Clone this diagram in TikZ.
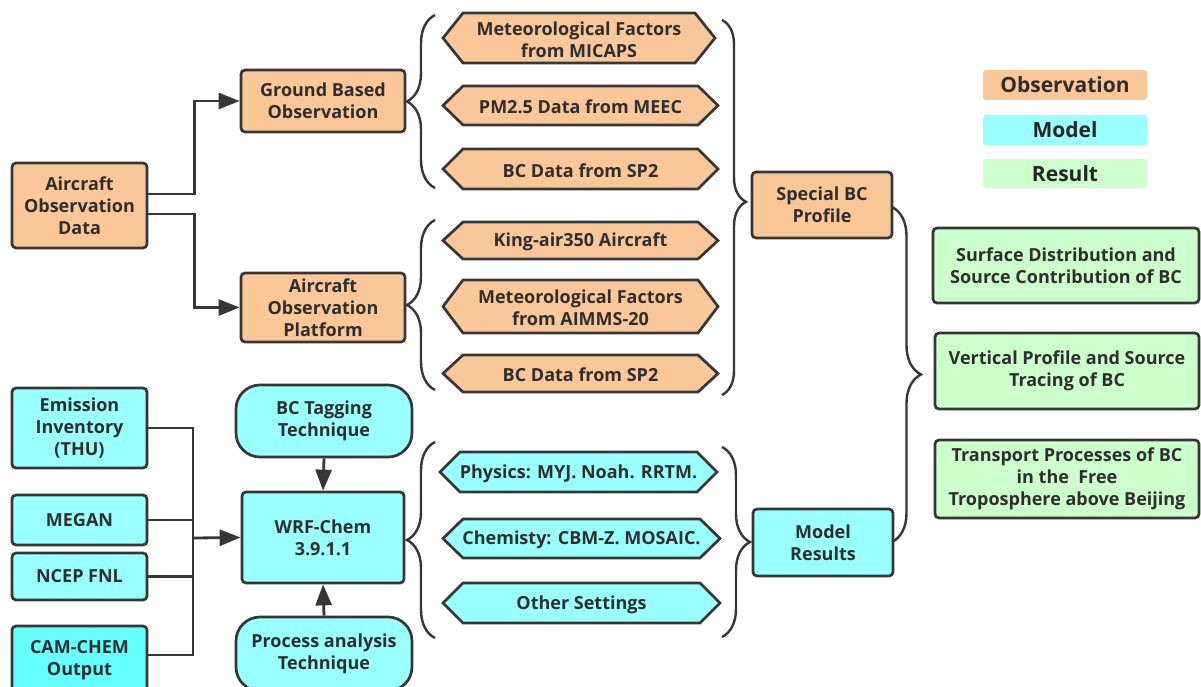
\documentclass[tikz,border=0pt]{standalone}
\usepackage{fontspec}
\setmainfont{Open Sans}
\usetikzlibrary{arrows.meta,decorations.pathreplacing}
\definecolor{obs}{HTML}{FAC898}
\definecolor{mod}{HTML}{99FFFF}
\definecolor{modb}{HTML}{66FFFF}
\definecolor{res}{HTML}{CCFFCC}
\definecolor{ln}{HTML}{363636}
\definecolor{tx}{HTML}{2E2E2E}
\tikzset{
  txt/.style={text=tx, align=center, inner sep=0pt, font=\fontsize{18}{22}\selectfont\bfseries},
  box/.style={txt, draw=ln, line width=2.7pt, rounded corners=4pt},
  hexline/.style={draw=ln, line width=2.7pt, line join=miter},
  legendbox/.style={txt, rounded corners=3pt, font=\fontsize{21}{25}\selectfont\bfseries},
  conn/.style={draw=ln, line width=2.8pt},
  arr/.style={conn, -{Triangle[length=21pt,width=16pt]}},
  bracel/.style={draw=ln, line width=2.4pt, decorate, decoration={brace, amplitude=#1}},
}
\newcommand\hexnode[7]{%
  \draw[hexline,fill=#2] (#3,{(#4+#6)/2}) -- ({#3+20},#4) -- ({#5-20},#4) -- (#5,{(#4+#6)/2}) -- ({#5-20},#6) -- ({#3+20},#6) -- cycle;
  \node[txt] (#1) at ({(#3+#5)/2},{(#4+#6)/2+1.5}) {#7};
}
\begin{document}
\begin{tikzpicture}[x=1pt,y=-1pt]
\clip (0,0) rectangle (1201,687);
\fill[white] (0,0) rectangle (1201,687);

% observation boxes
\node[box, fill=obs, minimum width=135pt, minimum height=85pt] (aod) at (79.5,205.5) {Aircraft\\Observation\\Data};
\node[box, fill=obs, minimum width=164pt, minimum height=62pt] (gbo) at (323,101) {Ground Based\\Observation};
\node[box, fill=obs, minimum width=164pt, minimum height=69pt] (aop) at (323,307.5) {Aircraft\\Observation\\Platform};
\node[box, fill=obs, minimum width=140pt, minimum height=66pt] (sbc) at (822,205) {Special BC\\Profile};

% observation hexagons
\hexnode{h1}{obs}{443}{13}{715}{63}{Meteorological Factors\\from MICAPS}
\hexnode{h2}{obs}{443}{86}{718}{125}{PM2.5 Data from MEEC}
\hexnode{h3}{obs}{443}{149}{718}{189}{BC Data from SP2}
\hexnode{h4}{obs}{443}{222}{718}{259}{King-air350 Aircraft}
\hexnode{h5}{obs}{443}{280}{718}{333}{Meteorological Factors\\from AIMMS-20}
\hexnode{h6}{obs}{443}{355}{718}{392}{BC Data from SP2}

% model boxes
\node[box, fill=mod, minimum width=135pt, minimum height=80pt] (emi) at (79.5,428) {Emission\\Inventory\\(THU)};
\node[box, fill=mod, minimum width=135pt, minimum height=50pt] (megan) at (79.5,520) {MEGAN};
\node[box, fill=mod, minimum width=135pt, minimum height=47pt] (ncep) at (79.5,576.5) {NCEP FNL};
\node[box, fill=modb, minimum width=135pt, minimum height=68pt] (cam) at (79.5,660) {CAM-CHEM\\Output};
\node[box, fill=mod, minimum width=162pt, minimum height=91pt] (wrf) at (323,537.5) {WRF-Chem\\3.9.1.1};
\node[box, fill=mod, rounded corners=24pt, minimum width=176pt, minimum height=72pt] (tag) at (324,421) {BC Tagging\\Technique};
\node[box, fill=mod, rounded corners=24pt, minimum width=176pt, minimum height=74pt] (proc) at (324,654) {Process analysis\\Technique};
\node[box, fill=mod, minimum width=140pt, minimum height=67pt] (mr) at (823,542.5) {Model\\Results};

% model hexagons
\hexnode{h7}{mod}{440}{452}{717}{492}{Physics: MYJ. Noah. RRTM.}
\hexnode{h8}{mod}{443}{519}{720}{558}{Chemisty: CBM-Z. MOSAIC.}
\hexnode{h9}{mod}{443}{583}{720}{623}{Other Settings}

% results
\node[box, fill=res, minimum width=266pt, minimum height=75pt] (r1) at (1066,265.5) {Surface Distribution and\\Source Contribution of BC};
\node[box, fill=res, minimum width=264pt, minimum height=76pt] (r2) at (1067,371) {Vertical Profile and Source\\Tracing of BC};
\node[box, fill=res, minimum width=264pt, minimum height=78pt] (r3) at (1067,479) {Transport Processes of BC\\in the\ \ Free\\Troposphere above Beijing};

% legend
\node[legendbox, fill=obs, minimum width=164pt, minimum height=30pt] (lo) at (1065,85) {Observation};
\node[legendbox, fill=mod, minimum width=164pt, minimum height=30pt, text=black!85] (lm) at (1065,130) {Model};
\node[legendbox, fill=res, minimum width=164pt, minimum height=29pt, text=black!85] (lr) at (1065,173.5) {Result};

% connectors
\draw[arr] ([yshift=11.5pt]aod.east) -- ++(46,0) |- (gbo.west);
\draw[arr] ([yshift=-8.5pt]aod.east) -- ++(46,0) |- (aop.west);
\coordinate (jn) at (193,538);
\draw[conn] (emi.east) -| (jn);
\draw[conn] (megan.east) -| (jn);
\draw[conn] (ncep.east) -| (jn);
\draw[conn] ([yshift=5pt]cam.east) -| (jn);
\draw[arr] (jn) -- (wrf.west);
\draw[arr] (tag.south) -- (wrf.north);
\draw[arr] (proc.north) -- (wrf.south);

% braces
\coordinate (b1a) at (435,188); \coordinate (b1b) at (435,15);
\coordinate (b2a) at (435,390); \coordinate (b2b) at (435,220);
\coordinate (b3a) at (722,20);  \coordinate (b3b) at (722,395);
\coordinate (b4a) at (435,638); \coordinate (b4b) at (435,442);
\coordinate (b5a) at (722,447); \coordinate (b5b) at (722,637);
\coordinate (b6a) at (892,207); \coordinate (b6b) at (892,542);
\draw[bracel=28pt] (b1a) -- (b1b);
\draw[bracel=28pt] (b2a) -- (b2b);
\draw[bracel=24pt, decoration={aspect=0.485}] (b3a) -- (b3b);
\draw[bracel=28pt] (b4a) -- (b4b);
\draw[bracel=28pt] (b5a) -- (b5b);
\draw[bracel=29pt] (b6a) -- (b6b);
\end{tikzpicture}
\end{document}
